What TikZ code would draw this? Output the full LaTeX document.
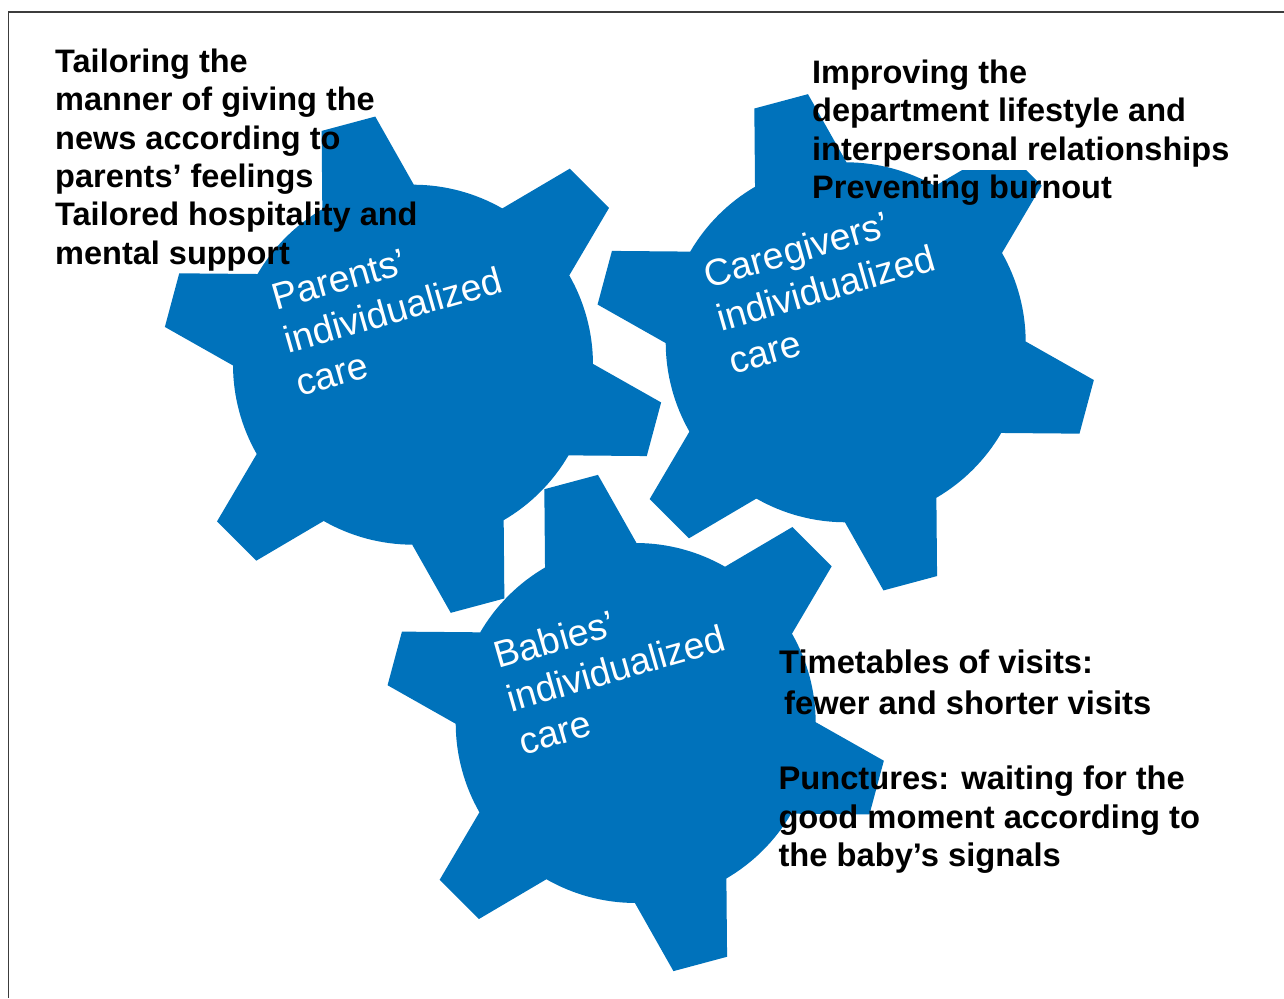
\documentclass[tikz,border=0pt]{standalone}
\usepackage{fontspec}
\setmainfont{Liberation Sans}
\usetikzlibrary{calc}
\definecolor{gearblue}{RGB}{0,114,187}
\definecolor{framegray}{RGB}{60,60,60}
\newcommand{\gearat}[1]{%
  \begin{scope}[shift={(#1)}]
    \fill[gearblue] (0.25:180)
      \foreach \a in {45,105,165,225,285,345} {
        arc[start angle=\a-44.75, end angle=\a-15.25, radius=180]
        -- (\a-6.35:251) -- (\a+6.35:251) -- (\a+15.25:180)
      } -- cycle;
  \end{scope}}
\begin{document}
\begin{tikzpicture}[x=1pt, y=1pt,
  blk/.style={inner sep=0pt, anchor=base west, text=black,
    font=\bfseries\fontsize{32.5}{38.4}\selectfont},
  geartxt/.style={inner sep=0pt, anchor=base west, text=white, rotate=16,
    font=\fontsize{37.5}{44.8}\selectfont}]
\useasboundingbox (0,0) rectangle (1284,998);
% frame (only left and top edges are visible)
\draw[framegray, line width=1.2pt] (8.3,0) -- (8.3,986) -- (1284,986);
% gear centres
\coordinate (pc) at (413,633.3);
\coordinate (cc) at (845.7,655.7);
\coordinate (bc) at (635.7,275);
\gearat{pc}
\gearat{cc}
\gearat{bc}
% white background of the upper-right text box
\fill[white] (930,828) rectangle (1240,950);
% gear labels
\node[geartxt] (ptxt) at ($(pc)+(-137,54)$) {\begin{tabular}[t]{@{}l@{}}Parents’\\individualized\\care\end{tabular}};
\node[geartxt] (ctxt) at ($(cc)+(-137,54)$) {\begin{tabular}[t]{@{}l@{}}Caregivers’\\individualized\\care\end{tabular}};
\node[geartxt] (btxt) at ($(bc)+(-137,54)$) {\begin{tabular}[t]{@{}l@{}}Babies’\\individualized\\care\end{tabular}};
% black texts
\node[blk] (ptext) at (55,925.7) {\begin{tabular}[t]{@{}l@{}}Tailoring the\\manner of giving the\\news according to\\parents’ feelings\\Tailored hospitality and\\mental support\end{tabular}};
\node[blk] (ctext) at (812,914.7) {\begin{tabular}[t]{@{}l@{}}Improving the\\department lifestyle and\\interpersonal relationships\\Preventing burnout\end{tabular}};
\node[blk, font=\bfseries\fontsize{32.7}{41.7}\selectfont] (vtext) at (779,324.7) {\begin{tabular}[t]{@{}l@{}}Timetables of visits:\\\hspace*{5pt}fewer and shorter visits\end{tabular}};
\node[blk, font=\bfseries\fontsize{32.7}{38.3}\selectfont] (ntext) at (778.3,208) {\begin{tabular}[t]{@{}l@{}}Punctures: waiting for the\\good moment according to\\the baby’s signals\end{tabular}};
\end{tikzpicture}
\end{document}
